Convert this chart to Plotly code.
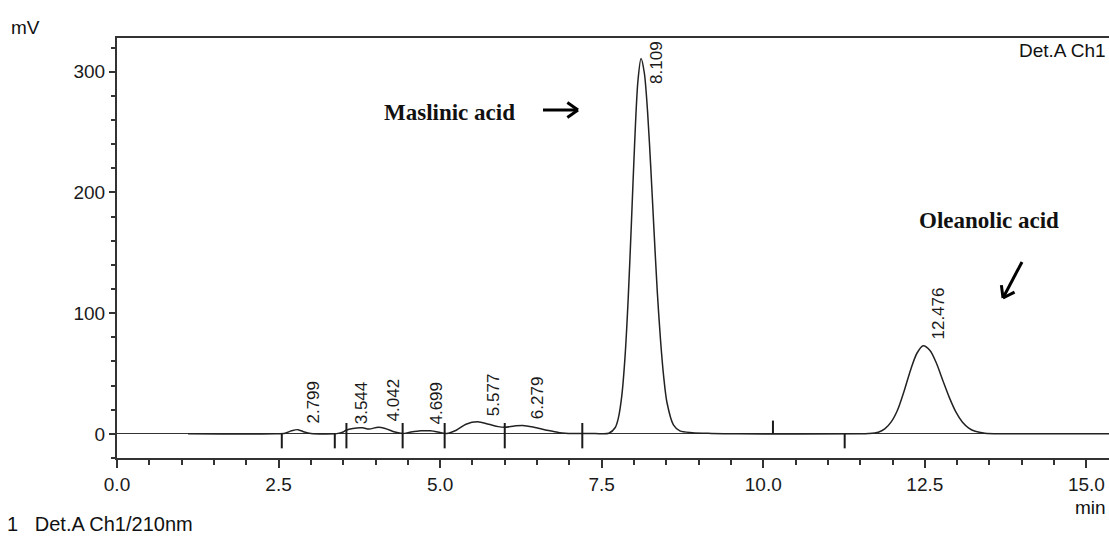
import math
import plotly.graph_objects as go

# ---------------- data ----------------
time_min = [1.10, 2.45, 2.60, 2.70, 2.80, 2.90, 3.00, 3.40, 3.50, 3.544, 3.65, 3.80, 3.90,
            4.042, 4.15, 4.30, 4.42, 4.55, 4.699, 4.85, 5.00, 5.10, 5.25, 5.40, 5.577,
            5.75, 5.90, 6.00, 6.15, 6.279, 6.45, 6.65, 6.85, 7.05, 7.20, 7.40, 7.61,
            7.71, 7.76, 7.81, 7.86, 7.91, 7.96, 8.01, 8.06, 8.109, 8.16, 8.21, 8.26,
            8.31, 8.36, 8.41, 8.46, 8.51, 8.61, 8.71, 8.90, 9.20, 9.60, 11.50, 11.63,
            11.78, 11.88, 11.98, 12.08, 12.18, 12.28, 12.38, 12.476, 12.58, 12.68, 12.78,
            12.88, 12.98, 13.08, 13.18, 13.28, 13.43, 13.70, 14.00, 15.35]
signal_mv = [0.0, 0.0, 0.5, 2.5, 3.5, 1.5, 0.3, 0.2, 1.5, 3.0, 4.5, 5.0, 4.0,
             5.5, 4.5, 1.5, 0.3, 1.5, 2.5, 2.5, 1.2, 0.3, 3.0, 8.0, 10.0,
             8.0, 6.0, 5.5, 6.5, 7.0, 5.5, 3.0, 1.0, 0.3, 0.3, 0.3, 0.5,
             5.3, 13.6, 31.0, 63.0, 112.0, 175.0, 241.0, 292.0, 311.0, 299.0, 267.0, 220.0,
             168.0, 118.0, 78.0, 47.0, 26.0, 7.5, 2.5, 1.0, 0.4, 0.0, 0.0, 0.3,
             1.4, 4.1, 9.9, 20.0, 35.5, 53.0, 67.0, 73.0, 69.0, 58.5, 44.0,
             30.0, 18.2, 9.9, 4.8, 2.1, 0.6, 0.1, 0.0, 0.0]

peak_rt = [2.799, 3.544, 4.042, 4.699, 5.577, 6.279, 8.109, 12.476]
peak_height = [3.5, 3.0, 5.5, 2.5, 10.0, 7.0, 311.0, 73.0]
peak_label = ["2.799", "3.544", "4.042", "4.699", "5.577", "6.279", "8.109", "12.476"]

mark_rt = [2.55, 3.37, 3.55, 4.42, 5.07, 6.00, 7.20, 10.15, 11.26]
mark_kind = ["down", "down", "both", "both", "both", "both", "both", "up", "down"]

x_tick_vals = [0.0, 2.5, 5.0, 7.5, 10.0, 12.5, 15.0]
x_tick_text = ["0.0", "2.5", "5.0", "7.5", "10.0", "12.5", "15.0"]
y_tick_vals = [0, 100, 200, 300]
y_tick_text = ["0", "100", "200", "300"]

# ---------------- layout constants ----------------
W, H = 1109, 538
PL, PT, PR, PB = 117, 38, 1109, 458
SANS = "Liberation Sans, Arial, sans-serif"
SERIF = "Liberation Serif, Times New Roman, serif"
INK = "#1a1a1a"
AX = "#333333"

def pxx(x):
    return (x - PL) / (PR - PL)

def pxy(y):
    return (PB - y) / (PB - PT)

mark_ext = {"down": (0.0, -12.0), "both": (9.0, -12.0), "up": (11.0, 0.0)}

fig = go.Figure()

fig.add_trace(go.Scatter(
    x=time_min, y=signal_mv, mode="lines",
    line=dict(color="#222222", width=1.5, shape="spline", smoothing=0.8),
    hoverinfo="skip", showlegend=False))

mx, my = [], []
for t, k in zip(mark_rt, mark_kind):
    top, bot = mark_ext[k]
    mx += [t, t, None]
    my += [top, bot, None]
fig.add_trace(go.Scatter(x=mx, y=my, mode="lines",
                         line=dict(color=INK, width=2),
                         hoverinfo="skip", showlegend=False))

annotations = []
for t, h, lab in zip(peak_rt, peak_height, peak_label):
    annotations.append(dict(
        x=t, y=min(h, 285), xref="x", yref="y", text=lab, showarrow=False,
        textangle=-90, xanchor="left", yanchor="bottom", xshift=4, yshift=4,
        font=dict(family=SANS, size=17, color=INK)))

def txt(text, x, y, size, xanchor="center", family=SANS, bold=False):
    annotations.append(dict(
        x=pxx(x), y=pxy(y), xref="paper", yref="paper",
        text=("<b>%s</b>" % text) if bold else text, showarrow=False,
        xanchor=xanchor, yanchor="middle",
        font=dict(family=family, size=size, color="#111111")))

txt("mV", 9, 27, 19, xanchor="left")
txt("min", 1108, 507, 19, xanchor="right")
txt("1&nbsp;&nbsp;&nbsp;Det.A Ch1/210nm", 5, 524, 20, xanchor="left")
txt("Det.A Ch1", 1108, 50, 19, xanchor="right")
txt("Maslinic acid", 449, 112, 23, family=SERIF, bold=True)
txt("Oleanolic acid", 989, 220, 23, family=SERIF, bold=True)

shapes = []

def arrow(x0, y0, x1, y1, head=13, ang=35):
    dx, dy = x1 - x0, y1 - y0
    n = math.hypot(dx, dy)
    ux, uy = dx / n, dy / n
    segs = [((x0, y0), (x1, y1))]
    for s in (1, -1):
        a = math.radians(ang) * s
        bx = -(ux * math.cos(a) - uy * math.sin(a))
        by = -(ux * math.sin(a) + uy * math.cos(a))
        segs.append(((x1, y1), (x1 + bx * head, y1 + by * head)))
    for (a0, a1) in segs:
        shapes.append(dict(type="line", xref="paper", yref="paper",
                           x0=pxx(a0[0]), y0=pxy(a0[1]), x1=pxx(a1[0]), y1=pxy(a1[1]),
                           line=dict(color="#000000", width=3)))

arrow(543, 110, 578, 110)
arrow(1022, 262, 1003, 298)

fig.update_layout(
    width=W, height=H,
    margin=dict(l=PL, r=W - PR, t=PT, b=H - PB, pad=0),
    paper_bgcolor="white", plot_bgcolor="white",
    showlegend=False,
    annotations=annotations, shapes=shapes,
    xaxis=dict(range=[0, 15.35], showline=True, linewidth=2, linecolor=AX, mirror=True,
               ticks="outside", ticklen=8, tickwidth=2, tickcolor=AX,
               tickmode="array", tickvals=x_tick_vals, ticktext=x_tick_text,
               tickfont=dict(family=SANS, size=19, color=INK),
               showgrid=False, zeroline=False,
               minor=dict(ticks="outside", ticklen=5, tickwidth=1.5, tickcolor=AX,
                          dtick=0.5, tick0=0, showgrid=False)),
    yaxis=dict(range=[-20, 328], showline=True, linewidth=2, linecolor=AX, mirror=False,
               ticks="outside", ticklen=6, tickwidth=2, tickcolor=AX,
               tickmode="array", tickvals=y_tick_vals, ticktext=y_tick_text,
               tickfont=dict(family=SANS, size=19, color=INK),
               showgrid=False, zeroline=True, zerolinecolor=AX, zerolinewidth=1.3,
               minor=dict(ticks="outside", ticklen=4, tickwidth=1.5, tickcolor=AX,
                          dtick=20, tick0=0, showgrid=False)),
)

fig.write_html("out.html")
